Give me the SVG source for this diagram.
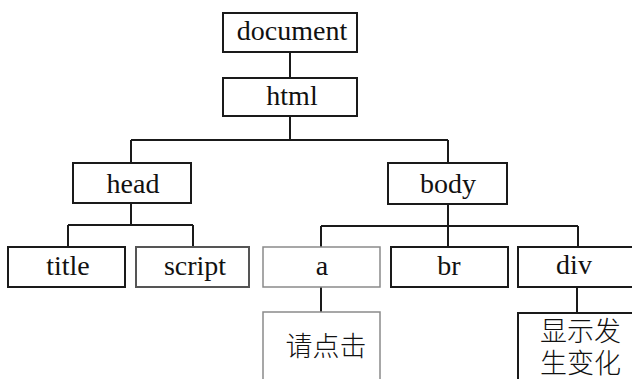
<svg xmlns="http://www.w3.org/2000/svg" width="632" height="379" viewBox="0 0 632 379">
<style>
.box{fill:#fff;stroke:#1a1a1a;stroke-width:2}
.lt{fill:#fff;stroke:#8a8a8a;stroke-width:1.5}
.t{font-family:"Liberation Serif","Times New Roman",serif;font-size:28px;fill:#111;text-anchor:middle}
.c{font-family:"Liberation Serif","Noto Sans CJK SC",serif;font-size:27px;fill:#111;font-weight:300}
.ln{stroke:#1a1a1a;stroke-width:2;fill:none}
</style>
<rect width="632" height="379" fill="#fff"/>
<g id="connectors">
<path class="ln" d="M290 52V78M290 116V140M131 140H448M131 140V163M448 140V163"/>
<path class="ln" d="M131 203V225M68 225H193M68 225V247M193 225V247"/>
<path class="ln" d="M448 204V226M321 226H578M321 226V247M448 226V247M578 226V247"/>
<path class="ln" d="M321 287V312M577 287V313"/>
</g>
<g id="document"><rect class="box" x="223" y="13" width="134" height="39"/><text class="t" x="292" y="40">document</text></g>
<g id="html"><rect class="box" x="223" y="78" width="134" height="38"/><text class="t" x="292" y="105">html</text></g>
<g id="head"><rect class="box" x="73" y="163" width="118" height="40"/><text class="t" x="133" y="193">head</text></g>
<g id="body"><rect class="box" x="388" y="163" width="119" height="41"/><text class="t" x="448" y="193">body</text></g>
<g id="title"><rect class="box" x="8" y="247" width="117" height="40"/><text class="t" x="68" y="275">title</text></g>
<g id="script"><rect class="box" x="136" y="247" width="113" height="40" style="stroke:#555"/><text class="t" x="195" y="275">script</text></g>
<g id="a"><rect class="lt" x="263" y="247" width="117" height="40"/><text class="t" x="322" y="275">a</text></g>
<g id="br"><rect class="box" x="391" y="247" width="117" height="40"/><text class="t" x="449" y="275">br</text></g>
<g id="div"><rect class="box" x="518" y="247" width="120" height="40"/><text class="t" x="574" y="274">div</text></g>
<g id="click"><rect class="lt" x="263" y="312" width="117" height="80"/><text class="c" x="326" y="356" text-anchor="middle">请点击</text></g>
<g id="change"><rect class="box" x="518" y="313" width="120" height="80"/><text class="c" x="540" y="341">显示发</text><text class="c" x="540" y="373">生变化</text></g>
</svg>
